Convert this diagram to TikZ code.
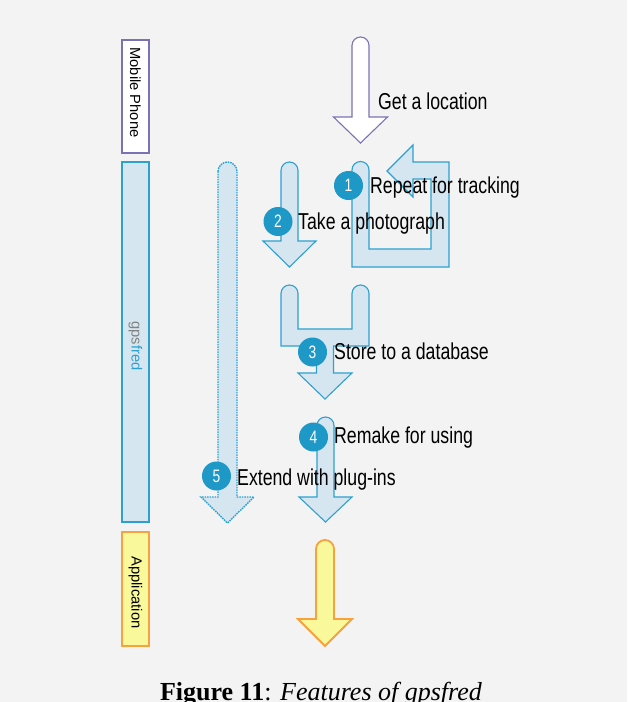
\documentclass[tikz,border=0pt]{standalone}
\usepackage{fontspec}
\setmainfont{Liberation Sans}
\newfontfamily\condf{Liberation Sans}[FakeStretch=0.77]
\newfontfamily\capf{Liberation Serif}
\definecolor{bgc}{RGB}{243,243,243}
\definecolor{lbfill}{RGB}{214,230,241}
\definecolor{bstroke}{RGB}{45,160,208}
\definecolor{badgec}{RGB}{30,152,198}
\definecolor{purp}{RGB}{123,114,180}
\definecolor{yel}{RGB}{249,249,155}
\definecolor{orng}{RGB}{247,161,63}
\definecolor{gpsgray}{RGB}{130,130,130}
\newcommand\darrow[7]{%
  \draw[#1] ({#2-#4},{#3+#4}) arc[start angle=180,end angle=360,radius=#4]
    -- ({#2+#4},#5) -- ({#2+#6},#5) -- (#2,#7) -- ({#2-#6},#5) -- ({#2-#4},#5) -- cycle;}
\tikzset{
  side/.style={line width=1.8pt},
  sidelabel/.style={rotate=-90, font=\fontsize{14.7}{16}\selectfont, inner sep=0pt},
  barrow/.style={fill=lbfill, draw=bstroke, line width=1.1pt, line join=miter},
  warrow/.style={fill=white, draw=purp, line width=1.1pt},
  yarrow/.style={fill=yel, draw=orng, line width=1.8pt},
  darrowstyle/.style={barrow, line width=1.4pt, dash pattern=on 1.6pt off 0.9pt},
  lbl/.style={anchor=base west, inner sep=0pt, font=\condf\fontsize{23}{26}\selectfont},
  badge/.style={circle, fill=badgec, text=white, minimum size=29pt, inner sep=0pt, font=\condf\fontsize{18}{20}\selectfont}
}
\begin{document}
\begin{tikzpicture}[x=1pt,y=-1pt]
\fill[bgc] (0,0) rectangle (627,702);
\useasboundingbox (0,0) rectangle (627,702);
\clip (0,0) rectangle (627,702);
% side bars
\draw[side, draw=purp, fill=white] (122,40) rectangle (149,153);
\node[sidelabel] (mp) at (135.5,92.5) {Mobile Phone};
\draw[side, draw=bstroke, fill=lbfill] (122,162) rectangle (149,522);
\node[sidelabel] (gf) at (135.5,346) {\textcolor{gpsgray}{gps}\textcolor{bstroke}{fred}};
\draw[side, draw=orng, fill=yel] (122,532) rectangle (149,646);
\node[sidelabel] (ap) at (135.5,592.5) {Application};
% arrows
\darrow{warrow}{360.5}{37}{8.5}{117}{27}{143}
\darrow{barrow}{289.5}{162}{8.5}{241}{26.5}{267}
\draw[barrow] (352,170) arc[start angle=180,end angle=360,radius=8.5]
  -- (369,249) -- (431,249) -- (431,179) -- (413,179) -- (413,197) -- (387,171)
  -- (413,145) -- (413,162) -- (449,162) -- (449,267) -- (352,267) -- cycle;
\draw[barrow] (281,293.5) arc[start angle=180,end angle=360,radius=8.5]
  -- (298,329) -- (352,329) -- (352,293.5) arc[start angle=180,end angle=360,radius=8.5]
  -- (369,346) -- (333.5,346) -- (333.5,373) -- (352,373) -- (325,399) -- (298,373)
  -- (316.5,373) -- (316.5,346) -- (281,346) -- cycle;
\darrow{barrow}{325.5}{417}{8.5}{497}{26.5}{522}
\darrow{darrowstyle}{227.5}{162}{9.5}{497}{26.5}{523}
\darrow{yarrow}{325}{540}{9}{619}{27}{646}
% labels
\node[lbl] (t0) at (378,109) {Get a location};
\node[lbl] (t1) at (370,193) {Repeat for tracking};
\node[lbl] (t2) at (298,229) {Take a photograph};
\node[lbl] (t3) at (334,359) {Store to a database};
\node[lbl] (t4) at (334,443) {Remake for using};
\node[lbl] (t5) at (237,485) {Extend with plug-ins};
% badges
\node[badge] (b1) at (348.5,185.5) {1};
\node[badge] (b2) at (278,221.5) {2};
\node[badge] (b3) at (312.5,352) {3};
\node[badge] (b4) at (313.5,437) {4};
\node[badge] (b5) at (216.5,476) {5};
% caption (cut off at the bottom edge, as in the reference)
\node[anchor=base, inner sep=0pt, font=\capf\fontsize{26}{30}\selectfont] (cap) at (321,700)
  {\textbf{Figure 11}: \textit{Features of gpsfred}};
\end{tikzpicture}
\end{document}
